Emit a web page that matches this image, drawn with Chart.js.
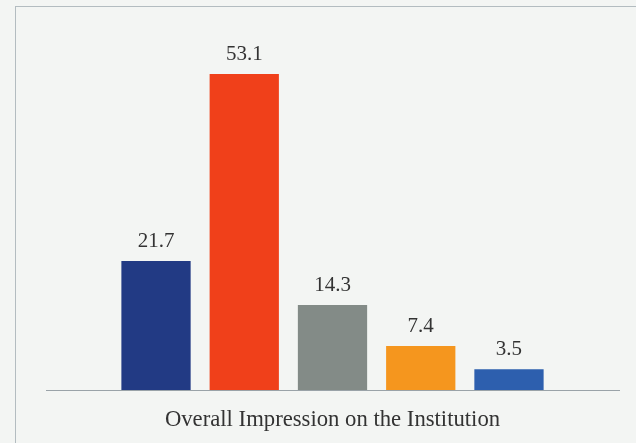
<!DOCTYPE html>
<html>
<head>
<meta charset="utf-8">
<script src="https://cdn.jsdelivr.net/npm/chart.js@4.4.1/dist/chart.umd.min.js"></script>
<style>
  html, body { margin: 0; padding: 0; background: #f3f5f3; }
  #wrap { position: relative; width: 636px; height: 443px; overflow: hidden; }
  #frame {
    position: absolute; left: 15px; top: 6px; width: 640px; height: 460px;
    border: 1px solid #b3bcc0; box-sizing: border-box;
  }
  canvas { position: absolute; left: 0; top: 0; }
</style>
</head>
<body>
<div id="wrap">
  <div id="frame"></div>
  <canvas id="chart" width="636" height="443"></canvas>
</div>
<script>
const categories = ['Overall Impression on the Institution'];
const seriesNames = ['A', 'B', 'C', 'D', 'E'];
const seriesValues = [21.7, 53.1, 14.3, 7.4, 3.5];
const barColors = ['#223a84', '#f0401a', '#838b87', '#f5961e', '#2d5fae'];

const serif = "'Liberation Serif', 'DejaVu Serif', serif";

const valueLabels = {
  id: 'valueLabels',
  afterDatasetsDraw(chart) {
    const ctx = chart.ctx;
    ctx.save();
    ctx.font = '21px ' + serif;
    ctx.fillStyle = '#333333';
    ctx.textAlign = 'center';
    ctx.textBaseline = 'alphabetic';
    chart.data.datasets.forEach((ds, i) => {
      const meta = chart.getDatasetMeta(i);
      meta.data.forEach((bar, j) => {
        ctx.fillText(ds.data[j].toFixed(1), bar.x, bar.y - 14);
      });
    });
    ctx.restore();
  }
};

const datasets = seriesNames.map((name, i) => ({
  label: name,
  data: [seriesValues[i]],
  backgroundColor: barColors[i],
  borderWidth: 0,
  categoryPercentage: 0.77,
  barPercentage: 0.785
}));

new Chart(document.getElementById('chart').getContext('2d'), {
  type: 'bar',
  data: { labels: categories, datasets: datasets },
  plugins: [valueLabels],
  options: {
    responsive: false,
    animation: false,
    layout: { padding: { left: 46, right: 17, top: 33, bottom: 0 } },
    plugins: {
      legend: { display: false },
      tooltip: { enabled: false }
    },
    scales: {
      x: {
        afterFit(scale) { scale.height = 53; },
        grid: { display: false },
        border: { display: true, color: '#9aa3a8', width: 1 },
        ticks: {
          padding: 8,
          maxRotation: 0,
          color: '#333333',
          font: { family: serif, size: 22.7 }
        }
      },
      y: {
        display: false,
        min: 0,
        max: 60
      }
    }
  }
});
</script>
</body>
</html>
